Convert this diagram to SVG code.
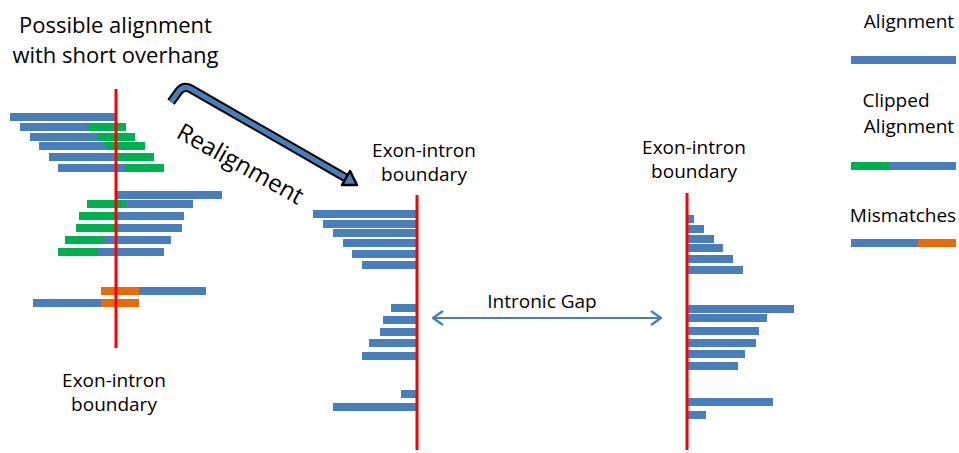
<svg xmlns="http://www.w3.org/2000/svg" width="959" height="453" viewBox="0 0 959 453">
  <style>
    .txt { font-family: "Open Sans", "Liberation Sans", sans-serif; font-size: 19px; fill: #000; }
    .big { font-size: 22px; }
    .b { fill: #4a7ebb; }
    .g { fill: #00b050; }
    .o { fill: #e46c0a; }
    .boundary { stroke: #ff0000; stroke-width: 3; }
    .gap { stroke: #4a7ebb; stroke-width: 2; fill: none; }
  </style>
  <defs>
    <marker id="chev" viewBox="0 0 12 16" refX="11" refY="8" markerWidth="12" markerHeight="16" markerUnits="userSpaceOnUse" orient="auto-start-reverse">
      <path d="M1,1 L11,8 L1,15" fill="none" stroke="#4a7ebb" stroke-width="2.4"/>
    </marker>
  </defs>

  <rect width="959" height="453" fill="#ffffff"/>

  <!-- heading -->
  <g id="title">
    <text class="txt big" x="115.5" y="33" text-anchor="middle">Possible alignment</text>
    <text class="txt big" x="115.5" y="63" text-anchor="middle">with short overhang</text>
  </g>

  <!-- reads before realignment -->
  <g id="reads-before">
    <rect class="b" x="10" y="113" width="106" height="8"/>
    <rect class="b" x="20" y="123" width="67" height="8"/><rect class="g" x="87" y="123" width="39" height="8"/>
    <rect class="b" x="30" y="133" width="67" height="8"/><rect class="g" x="97" y="133" width="38" height="8"/>
    <rect class="b" x="39" y="142" width="67" height="8"/><rect class="g" x="106" y="142" width="39" height="8"/>
    <rect class="b" x="49" y="153" width="68" height="8"/><rect class="g" x="117" y="153" width="37" height="8"/>
    <rect class="b" x="58" y="164" width="67" height="8"/><rect class="g" x="125" y="164" width="39" height="8"/>

    <rect class="b" x="117" y="191" width="105" height="8"/>
    <rect class="g" x="87" y="200" width="39" height="8"/><rect class="b" x="126" y="200" width="67" height="8"/>
    <rect class="g" x="79" y="212" width="37" height="8"/><rect class="b" x="116" y="212" width="68" height="8"/>
    <rect class="g" x="76" y="224" width="40" height="8"/><rect class="b" x="116" y="224" width="66" height="8"/>
    <rect class="g" x="65" y="236" width="39" height="8"/><rect class="b" x="104" y="236" width="67" height="8"/>
    <rect class="g" x="58" y="248" width="39" height="8"/><rect class="b" x="97" y="248" width="67" height="8"/>

    <rect class="o" x="101" y="287" width="38" height="8"/><rect class="b" x="139" y="287" width="67" height="8"/>
    <rect class="b" x="33" y="299" width="68" height="8"/><rect class="o" x="101" y="299" width="38" height="8"/>

    <line class="boundary" x1="116" y1="89" x2="116" y2="348"/>
  </g>
  <g id="label-before">
    <text class="txt" x="114" y="387" text-anchor="middle">Exon-intron</text>
    <text class="txt" x="114" y="411" text-anchor="middle">boundary</text>
  </g>

  <!-- reads after realignment, exon side -->
  <g id="reads-exon">
    <rect class="b" x="313" y="210" width="103" height="8"/>
    <rect class="b" x="323" y="220" width="93" height="8"/>
    <rect class="b" x="333" y="229" width="83" height="8"/>
    <rect class="b" x="343" y="239" width="73" height="8"/>
    <rect class="b" x="352" y="250" width="64" height="8"/>
    <rect class="b" x="362" y="261" width="54" height="8"/>
    <rect class="b" x="391" y="304" width="25" height="8"/>
    <rect class="b" x="383" y="316" width="33" height="8"/>
    <rect class="b" x="380" y="328" width="36" height="8"/>
    <rect class="b" x="369" y="339" width="47" height="8"/>
    <rect class="b" x="362" y="352" width="54" height="8"/>
    <rect class="b" x="401" y="390" width="15" height="8"/>
    <rect class="b" x="333" y="403" width="83" height="8"/>
    <line class="boundary" x1="417" y1="195" x2="417" y2="450"/>
  </g>
  <g id="label-exon">
    <text class="txt" x="424" y="157" text-anchor="middle">Exon-intron</text>
    <text class="txt" x="424" y="181" text-anchor="middle">boundary</text>
  </g>

  <!-- reads after realignment, far side of the intron -->
  <g id="reads-intron">
    <rect class="b" x="687" y="215" width="7" height="8"/>
    <rect class="b" x="687" y="225" width="17" height="8"/>
    <rect class="b" x="687" y="235" width="27" height="8"/>
    <rect class="b" x="687" y="244" width="36" height="8"/>
    <rect class="b" x="687" y="255" width="46" height="8"/>
    <rect class="b" x="687" y="266" width="56" height="8"/>
    <rect class="b" x="687" y="305" width="107" height="8"/>
    <rect class="b" x="687" y="314" width="80" height="8"/>
    <rect class="b" x="687" y="327" width="72" height="8"/>
    <rect class="b" x="687" y="339" width="69" height="8"/>
    <rect class="b" x="687" y="350" width="58" height="8"/>
    <rect class="b" x="687" y="362" width="51" height="8"/>
    <rect class="b" x="687" y="398" width="86" height="8"/>
    <rect class="b" x="687" y="411" width="19" height="8"/>
    <line class="boundary" x1="687" y1="193" x2="687" y2="450"/>
  </g>
  <g id="label-intron">
    <text class="txt" x="694" y="154" text-anchor="middle">Exon-intron</text>
    <text class="txt" x="694" y="178" text-anchor="middle">boundary</text>
  </g>

  <!-- legend -->
  <g id="legend-alignment">
    <text class="txt" x="909" y="28" text-anchor="middle">Alignment</text>
    <rect class="b" x="851" y="56" width="105" height="8"/>
  </g>
  <g id="legend-clipped">
    <text class="txt" x="896" y="107" text-anchor="middle">Clipped</text>
    <text class="txt" x="909" y="133" text-anchor="middle">Alignment</text>
    <rect class="g" x="851" y="162" width="38" height="8"/>
    <rect class="b" x="889" y="162" width="67" height="8"/>
  </g>
  <g id="legend-mismatches">
    <text class="txt" x="903" y="222" text-anchor="middle">Mismatches</text>
    <rect class="b" x="851" y="239" width="67" height="8"/>
    <rect class="o" x="918" y="239" width="38" height="8"/>
  </g>

  <!-- connectors -->
  <g id="connectors">
    <g id="realignment-arrow">
      <path d="M171,102 L179,91 Q184,85 191,89 L346,178" fill="none" stroke="#000" stroke-width="9" stroke-linejoin="round"/>
      <path d="M171,102 L179,91 Q184,85 191,89 L346,178" fill="none" stroke="#4a7ebb" stroke-width="5" stroke-linejoin="round"/>
      <polygon points="342,185 350,171 357,185" fill="#4a7ebb" stroke="#000" stroke-width="2.5" stroke-linejoin="round"/>
    </g>
    <text class="txt" style="font-size:24px" transform="translate(175,137) rotate(29)">Realignment</text>
    <g id="intronic-gap">
      <line class="gap" x1="433" y1="318" x2="661" y2="318" marker-start="url(#chev)" marker-end="url(#chev)"/>
      <text class="txt" x="542" y="308" text-anchor="middle">Intronic Gap</text>
    </g>
  </g>
</svg>
